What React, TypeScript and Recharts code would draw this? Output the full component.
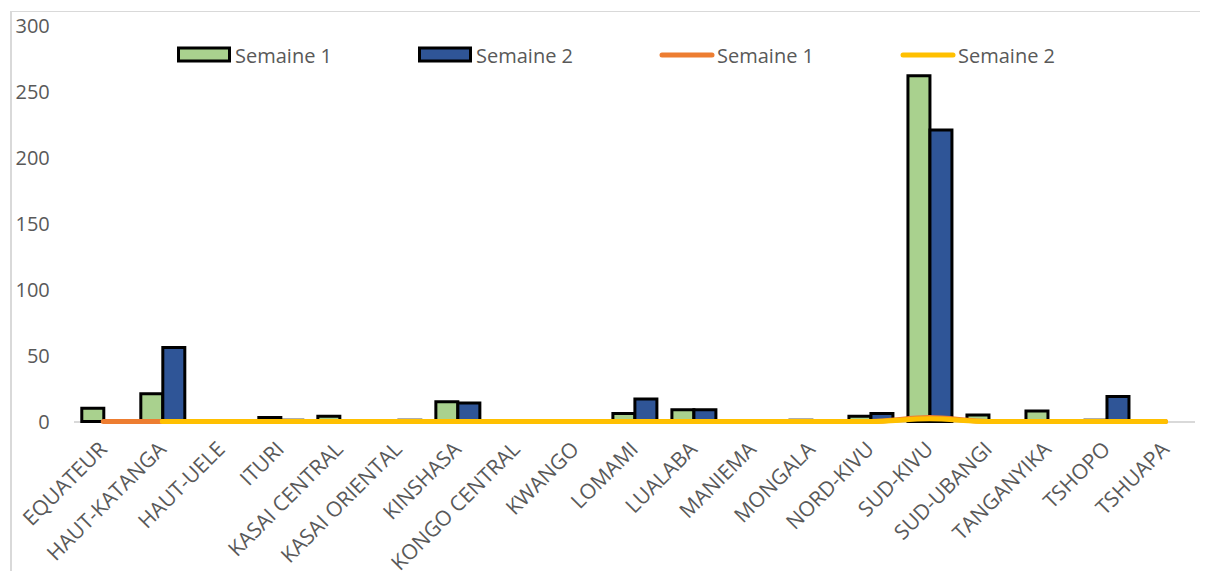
import {
  ComposedChart,
  Bar,
  Line,
  XAxis,
  YAxis,
  Legend,
} from 'recharts';

const categories = [
  'EQUATEUR',
  'HAUT-KATANGA',
  'HAUT-UELE',
  'ITURI',
  'KASAI CENTRAL',
  'KASAI ORIENTAL',
  'KINSHASA',
  'KONGO CENTRAL',
  'KWANGO',
  'LOMAMI',
  'LUALABA',
  'MANIEMA',
  'MONGALA',
  'NORD-KIVU',
  'SUD-KIVU',
  'SUD-UBANGI',
  'TANGANYIKA',
  'TSHOPO',
  'TSHUAPA',
];

// bars
const barWeek1 = [10, 21, 0, 3, 4, 0, 15, 0, 0, 6, 9, 0, 1, 4, 262, 5, 8, 1, 0];
const barWeek2 = [0, 56, 0, 1, 0, 1, 14, 0, 0, 17, 9, 0, 0, 6, 221, 0, 0, 19, 0];

// lines (hug the zero line)
const lineWeek1 = [0, 0, 0, 0, 0, 0, 0, 0, 0, 0, 0, 0, 0, 0, 3, 0, 0, 0, 0];
const lineWeek2 = [null, 0, 0, 0, 0, 0, 0, 0, 0, 0, 0, 0, 0, 0, 2, 0, 0, 0, 0];

const yTicks = [0, 50, 100, 150, 200, 250, 300];

const legendOrder = ['b1', 'b2', 'l1', 'l2'];

const data = categories.map((name, i) => ({
  name,
  b1: barWeek1[i],
  b2: barWeek2[i],
  l1: lineWeek1[i],
  l2: lineWeek2[i],
}));

const FONT = '"Open Sans", "Liberation Sans", sans-serif';
const TEXT = '#595959';

function CategoryTick(props: any) {
  const { x = 0, y = 0, payload } = props;
  return (
    <g transform={`translate(${x + 5},${y + 29})`}>
      <text
        transform="rotate(-45)"
        textAnchor="end"
        fill={TEXT}
        fontSize={21}
        fontFamily={FONT}
      >
        {payload.value}
      </text>
    </g>
  );
}

function renderLegend(props: any) {
  const payload = [...(props.payload || [])].sort(
    (a: any, b: any) => legendOrder.indexOf(a.dataKey) - legendOrder.indexOf(b.dataKey)
  );
  return (
    <div style={{ display: 'flex', paddingLeft: 177 }}>
      {payload.map((entry: any, i: number) => (
        <div
          key={i}
          style={{ width: 241, display: 'flex', alignItems: 'center', height: 30 }}
        >
          <svg width={58} height={20}>
            {entry.type === 'rect' ? (
              <rect x={1.5} y={3} width={51} height={13} fill={entry.color} stroke="#000" strokeWidth={3} />
            ) : (
              <line x1={3} y1={10} x2={53} y2={10} stroke={entry.color} strokeWidth={5} strokeLinecap="round" />
            )}
          </svg>
          <span style={{ fontFamily: FONT, fontSize: 20, color: TEXT }}>{entry.value}</span>
        </div>
      ))}
    </div>
  );
}

export default function App() {
  return (
    <div style={{ margin: -8, width: 1208, height: 579, position: 'relative', overflow: 'hidden', background: '#fff' }}>
      <div
        style={{
          position: 'absolute',
          left: 10,
          top: 11,
          width: 1400,
          height: 800,
          borderLeft: '2px solid #d9d9d9',
          borderTop: '1px solid #d9d9d9',
        }}
      />
      {/* zero baseline, kept beneath the series */}
      <div
        style={{
          position: 'absolute',
          left: 73.8,
          top: 420.5,
          width: 1121,
          height: 2,
          background: '#d9d9d9',
        }}
      />
      <ComposedChart
        width={1208}
        height={579}
        data={data}
        margin={{ top: 25.7, right: 13, bottom: 0, left: 0 }}
        barGap={0}
        style={{ position: 'absolute', left: 0, top: 0 }}
      >
        <XAxis
          dataKey="name"
          interval={0}
          height={157.5}
          axisLine={false}
          tickLine={false}
          tickSize={0}
          tickMargin={0}
          tick={<CategoryTick />}
        />
        <YAxis
          width={73.8}
          domain={[0, 300]}
          ticks={yTicks}
          axisLine={false}
          tickLine={false}
          tickSize={0}
          tickMargin={24}
          tick={{ fontSize: 20, fill: TEXT, fontFamily: FONT }}
        />
        <Legend
          layout="horizontal"
          verticalAlign="middle"
          align="center"
          content={renderLegend}
          wrapperStyle={{ position: 'absolute', top: 40, left: 0, width: 1208 }}
        />
        <Bar dataKey="b1" name="Semaine 1" fill="#a9d18e" stroke="#000" strokeWidth={3} barSize={22} isAnimationActive={false} />
        <Bar dataKey="b2" name="Semaine 2" fill="#2f5597" stroke="#000" strokeWidth={3} barSize={22} isAnimationActive={false} />
        <Line dataKey="l1" name="Semaine 1" type="monotone" stroke="#ed7d31" strokeWidth={5} strokeLinecap="round" dot={false} activeDot={false} isAnimationActive={false} />
        <Line dataKey="l2" name="Semaine 2" type="monotone" stroke="#ffc000" strokeWidth={5} strokeLinecap="round" dot={false} activeDot={false} isAnimationActive={false} />
      </ComposedChart>
    </div>
  );
}
